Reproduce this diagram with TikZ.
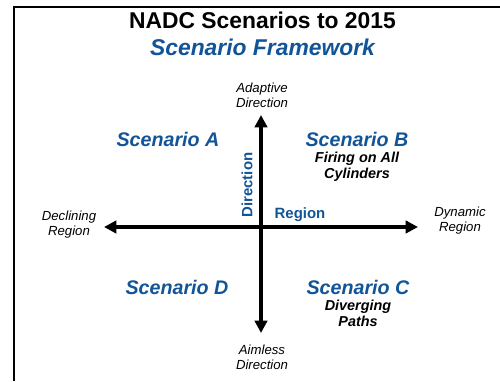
\documentclass[tikz,border=0pt]{standalone}
\usepackage{fontspec}
\setmainfont{Liberation Sans}
\usepackage{tikz}
\usetikzlibrary{positioning, arrows.meta}

\definecolor{scenblue}{RGB}{18,84,152}

\tikzset{
    axis/.style={line width=1.9pt, {Triangle[length=7pt,width=7pt]}-{Triangle[length=7pt,width=7pt]}},
    pole/.style={font=\fontsize{7.5}{8.6}\selectfont\itshape, align=center, inner sep=1pt},
    scen/.style={font=\fontsize{11.2}{12.5}\selectfont\bfseries\itshape, text=scenblue, inner sep=1pt},
    tag/.style={font=\fontsize{8.2}{9.2}\selectfont\bfseries\itshape, align=center, inner sep=1pt},
    axlabel/.style={font=\fontsize{8.5}{10}\selectfont\bfseries, text=scenblue, inner sep=1pt}
}

\begin{document}
\begin{tikzpicture}
        \useasboundingbox (0,0) rectangle (10,7.62);
        % frame
        \draw [line width=1.1pt] (0.28,0) -- (0.28,7.48) -- (10,7.48);
        % titles
        \node (title) at (5.25,7.22) {\fontsize{13}{14}\selectfont\bfseries NADC Scenarios to 2015};
        \node (subtitle) at (5.25,6.68) {\fontsize{13}{14}\selectfont\bfseries\itshape\color{scenblue}Scenario Framework};
        % axes
        \coordinate (top) at (5.22,5.32);
        \coordinate (bottom) at (5.22,0.96);
        \coordinate (left) at (2.08,3.08);
        \coordinate (right) at (8.36,3.08);
        \draw [axis] (bottom) -- (top);
        \draw [axis] (left) -- (right);
        % ends of the axes
        \node [pole] (adaptive) at (5.24,5.72) {Adaptive\\Direction};
        \node [pole] (aimless) at (5.24,0.48) {Aimless\\Direction};
        \node [pole] (declining) at (1.38,3.12) {Declining\\Region};
        \node [pole] (dynamic) at (9.2,3.2) {Dynamic\\Region};
        \node [axlabel, rotate=90] (direction) at (4.94,3.92) {Direction};
        \node [axlabel] (region) at (6.0,3.32) {Region};
        % quadrants
        \node [scen] (scenA) at (3.36,4.84) {Scenario A};
        \node [scen] (scenB) at (7.14,4.84) {Scenario B};
        \node [tag, below=1pt of scenB] (firing) {Firing on All\\Cylinders};
        \node [scen] (scenD) at (3.54,1.88) {Scenario D};
        \node [scen] (scenC) at (7.16,1.88) {Scenario C};
        \node [tag, below=1pt of scenC] (diverging) {Diverging\\Paths};
    \end{tikzpicture}
\end{document}
